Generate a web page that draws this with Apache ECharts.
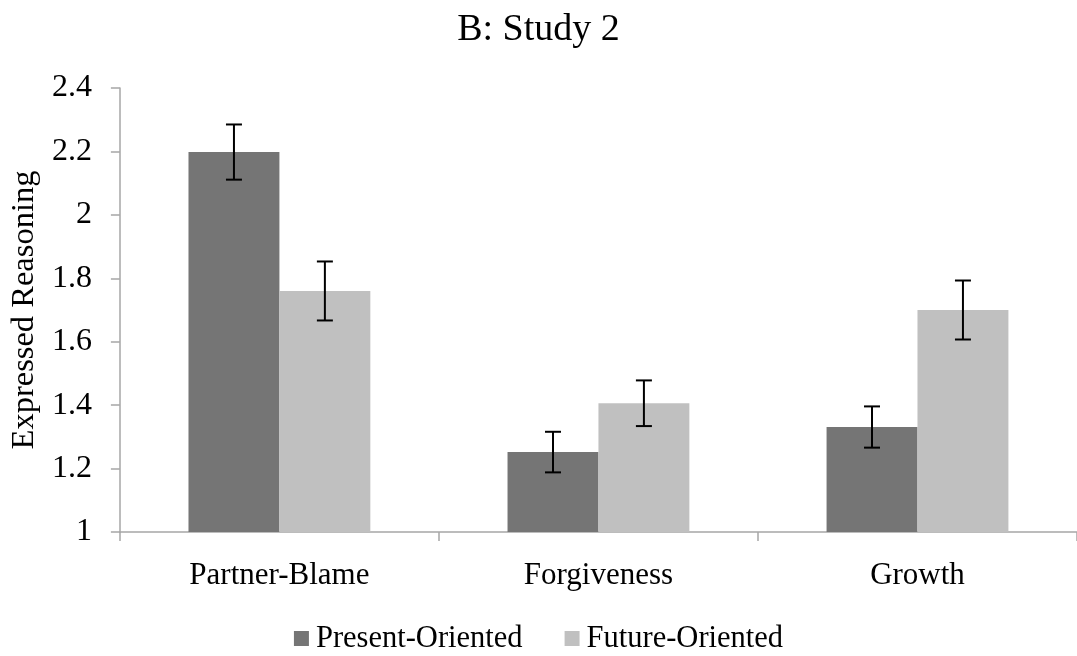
<!DOCTYPE html>
<html>
<head>
<meta charset="utf-8">
<title>B: Study 2</title>
<script src="https://cdn.jsdelivr.net/npm/echarts@6/dist/echarts.min.js"></script>
<style>
  html, body { margin: 0; padding: 0; background: #fff; }
  #chart { width: 1077px; height: 656px; }
</style>
</head>
<body>
<div id="chart"></div>
<script>
// data
var categories = ['Partner-Blame', 'Forgiveness', 'Growth'];
var seriesNames = ['Present-Oriented', 'Future-Oriented'];
var presentMeans = [2.198, 1.252, 1.331];
var futureMeans = [1.760, 1.406, 1.700];
var presentErr = [0.087, 0.064, 0.065];
var futureErr = [0.093, 0.072, 0.093];
var yTicks = [1, 1.2, 1.4, 1.6, 1.8, 2, 2.2, 2.4];

var BAR_FRAC = 0.285; // bar width as share of category band
var FONT = '"Liberation Serif", "DejaVu Serif", serif';

function errRows(means, errs) {
	return means.map(function(m, i) {
		return [i, m - errs[i], m + errs[i]];
	});
}

function errRenderer(side) {
	return function(params, api) {
		var band = api.size([1, 0])[0];
		var bw = band * BAR_FRAC;
		var lo = api.coord([api.value(0), api.value(1)]);
		var hi = api.coord([api.value(0), api.value(2)]);
		var x = lo[0] + side * bw / 2;
		var cap = 8;
		var style = { stroke: '#000', lineWidth: 2 };
		return {
			type: 'group',
			children: [
				{ type: 'line', shape: { x1: x, y1: lo[1], x2: x, y2: hi[1] }, style: style },
				{ type: 'line', shape: { x1: x - cap, y1: hi[1], x2: x + cap, y2: hi[1] }, style: style },
				{ type: 'line', shape: { x1: x - cap, y1: lo[1], x2: x + cap, y2: lo[1] }, style: style }
			]
		};
	};
}

var myChart = echarts.init(document.getElementById('chart'));
var option = {
	animation: false,
	backgroundColor: '#fff',
	title: {
		text: 'B: Study 2',
		left: 'center',
		top: 6,
		textStyle: { fontFamily: FONT, fontSize: 38, fontWeight: 'normal', color: '#000' }
	},
	legend: {
		data: seriesNames,
		bottom: -3,
		left: 'center',
		icon: 'rect',
		itemWidth: 15,
		itemHeight: 15,
		itemGap: 42,
		textStyle: { fontFamily: FONT, fontSize: 30.5, color: '#000', padding: [0, 0, 0, 2] }
	},
	grid: {
		left: 114,
		right: -5,
		top: 88,
		bottom: 124
	},
	xAxis: {
		type: 'category',
		data: categories,
		axisLine: { lineStyle: { color: '#a6a6a6', width: 1.5 } },
		axisTick: { show: true, length: 9, lineStyle: { color: '#a6a6a6', width: 1.5 } },
		axisLabel: { fontFamily: FONT, fontSize: 31, color: '#000', margin: 28 }
	},
	yAxis: {
		type: 'value',
		min: 1,
		max: 2.4,
		interval: 0.2,
		name: 'Expressed Reasoning',
		nameLocation: 'middle',
		nameGap: 77,
		nameTextStyle: { fontFamily: FONT, fontSize: 32.5, color: '#000' },
		axisLine: { show: true, lineStyle: { color: '#a6a6a6', width: 1.5 } },
		axisTick: { show: true, length: 9, lineStyle: { color: '#a6a6a6', width: 1.5 } },
		splitLine: { show: false },
		axisLabel: {
			fontFamily: FONT, fontSize: 32, color: '#000', margin: 28,
			formatter: function(v) {
				var hit = yTicks.filter(function(t) { return Math.abs(t - v) < 1e-6; });
				return hit.length ? String(hit[0]) : '';
			}
		}
	},
	series: [{
		name: seriesNames[0],
		type: 'bar',
		data: presentMeans,
		barWidth: (BAR_FRAC * 100) + '%',
		barGap: '0%',
		itemStyle: { color: '#757575' }
	}, {
		name: seriesNames[1],
		type: 'bar',
		data: futureMeans,
		barWidth: (BAR_FRAC * 100) + '%',
		barGap: '0%',
		itemStyle: { color: '#c0c0c0' }
	}, {
		type: 'custom',
		renderItem: errRenderer(-1),
		data: errRows(presentMeans, presentErr),
		encode: { x: 0, y: [1, 2] },
		z: 10
	}, {
		type: 'custom',
		renderItem: errRenderer(1),
		data: errRows(futureMeans, futureErr),
		encode: { x: 0, y: [1, 2] },
		z: 10
	}]
};
window.onresize = myChart.resize;
myChart.setOption(option);
</script>
</body>
</html>
